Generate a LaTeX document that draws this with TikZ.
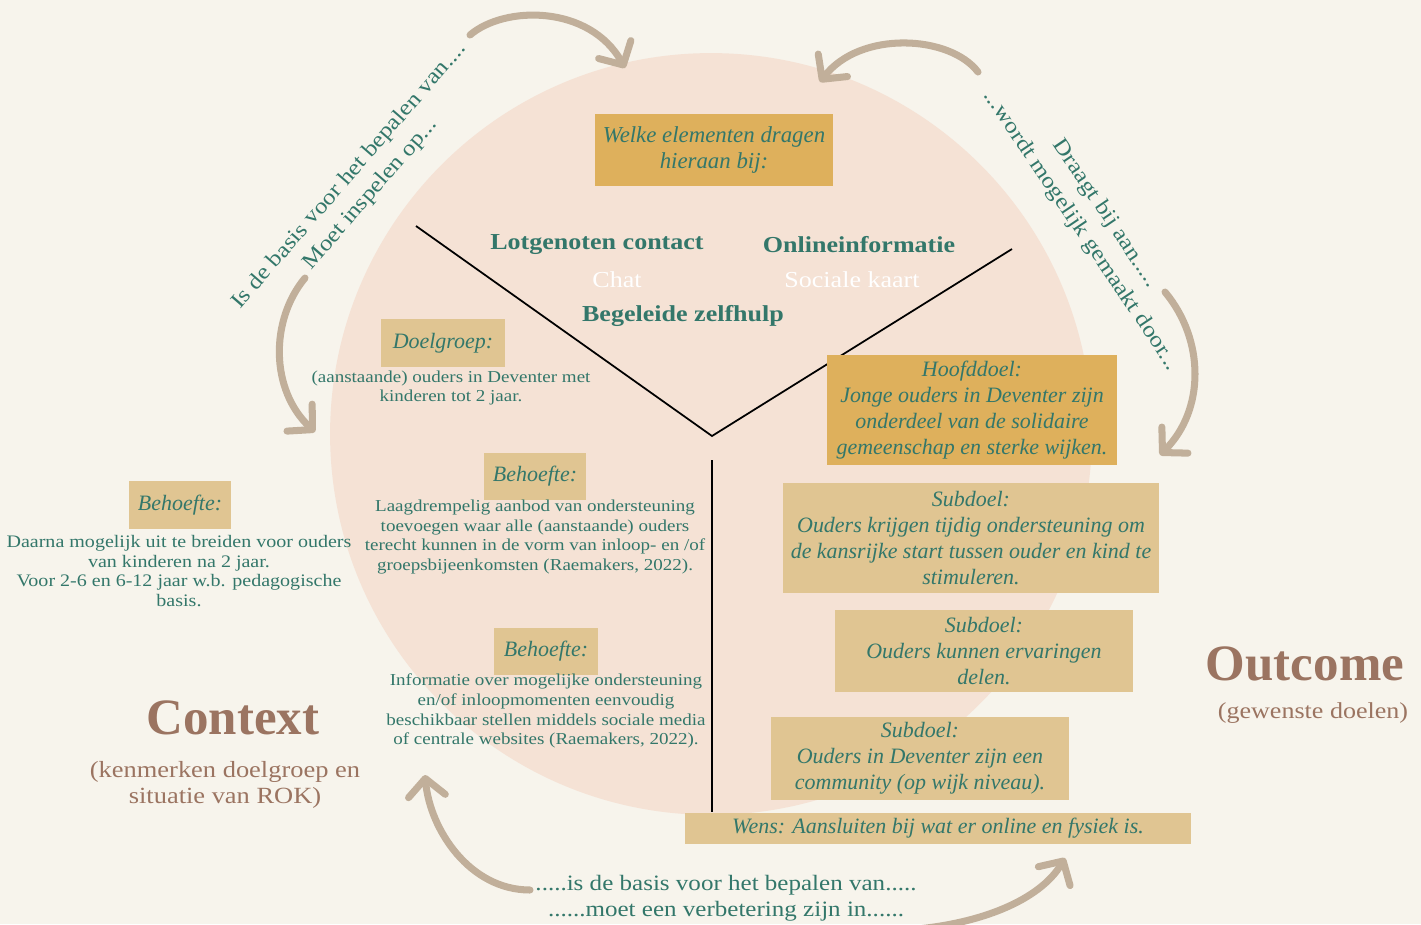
\documentclass[tikz,border=0pt]{standalone}
\usepackage{fontspec}
\setmainfont{Liberation Serif}
\newfontfamily\breed{Liberation Serif}[FakeStretch=1.14]
\usetikzlibrary{arrows.meta}
\definecolor{creme}{HTML}{F7F4EC}
\definecolor{roze}{HTML}{F5E2D5}
\definecolor{groen}{HTML}{33776A}
\definecolor{goudDonker}{HTML}{DEB05C}
\definecolor{goudLicht}{HTML}{E0C592}
\definecolor{pijlkleur}{HTML}{C1AF9A}
\definecolor{bruin}{HTML}{9B7461}

\begin{document}
\begin{tikzpicture}[x=0.02cm,y=-0.02cm,
    kaderdonker/.style={fill=goudDonker, text=groen, align=center, inner sep=0pt,
      font=\fontsize{12.5}{14.7}\selectfont\itshape},
    kaderlicht/.style={kaderdonker, fill=goudLicht},
    tekst/.style={text=groen, align=center, font=\breed\fontsize{9.5}{11.3}\selectfont},
    kop/.style={text=groen, font=\breed\fontsize{13}{15}\selectfont\bfseries},
    wit/.style={text=white, font=\breed\fontsize{13}{15}\selectfont},
    schuin/.style={text=groen, align=center, font=\breed\fontsize{12.5}{16}\selectfont},
    pijl/.style={draw=pijlkleur, line width=4pt, line cap=round,
      -{Straight Barb[length=10pt,width=21pt,line cap=round,line join=round]}}]

  % achtergrond en cirkel
  \fill[creme] (0,0) rectangle (1421,924);
  \useasboundingbox (0,0) rectangle (1421,924);
  \fill[roze] (711,434) circle [radius=7.62cm];

  % Y-lijnen
  \coordinate (vlinks) at (416,226);
  \coordinate (vpunt) at (712,436);
  \coordinate (vrechts) at (1012,249);
  \coordinate (stamtop) at (712,460);
  \coordinate (stamvoet) at (712,812);
  \draw[line width=1pt] (vlinks) -- (vpunt) -- (vrechts);
  \draw[line width=1pt] (stamtop) -- (stamvoet);

  % bovenste deel
  \node[kaderdonker, minimum width=4.76cm, minimum height=1.46cm,
    font=\fontsize{13}{14.7}\selectfont\itshape] (welke) at (714,150)
    {Welke elementen dragen\\hieraan bij:};
  \node[kop] (lotgenoten) at (597,245) {Lotgenoten contact};
  \node[kop] (online) at (859,245) {Onlineinformatie};
  \node[wit] (chat) at (617,280) {Chat};
  \node[wit] (sociaal) at (852,280) {Sociale kaart};
  \node[kop] (zelfhulp) at (683,316) {Begeleide zelfhulp};

  % context
  \node[kaderlicht, minimum width=2.5cm, minimum height=0.96cm] (doelgroep) at (443,343) {Doelgroep:};
  \node[tekst] (doelgroeptekst) at (451,388) {(aanstaande) ouders in Deventer met\\kinderen tot 2 jaar.};
  \node[kaderlicht, minimum width=2.04cm, minimum height=0.94cm] (behoefteA) at (535,476) {Behoefte:};
  \node[tekst] (behoefteAtekst) at (535,537) {Laagdrempelig aanbod van ondersteuning\\toevoegen waar alle (aanstaande) ouders\\terecht kunnen in de vorm van inloop- en /of\\groepsbijeenkomsten (Raemakers, 2022).};
  \node[kaderlicht, minimum width=2.08cm, minimum height=0.94cm] (behoefteB) at (546,651) {Behoefte:};
  \node[tekst] (behoefteBtekst) at (546,711) {Informatie over mogelijke ondersteuning\\en/of inloopmomenten eenvoudig\\beschikbaar stellen middels sociale media\\of centrale websites (Raemakers, 2022).};
  \node[kaderlicht, minimum width=2.06cm, minimum height=0.96cm] (behoefteC) at (180,505) {Behoefte:};
  \node[tekst, font=\breed\fontsize{10}{11.3}\selectfont] (behoefteCtekst) at (179,571) {Daarna mogelijk uit te breiden voor ouders\\van kinderen na 2 jaar.\\Voor 2-6 en 6-12 jaar w.b. pedagogische\\basis.};
  \node[text=bruin, font=\fontsize{29}{32}\selectfont\bfseries] (context) at (233,718) {Context};
  \node[text=bruin, align=center, font=\breed\fontsize{13.2}{14.7}\selectfont] (contextsub) at (225,785)
    {(kenmerken doelgroep en\\situatie van ROK)};

  % outcome
  \node[kaderdonker, minimum width=5.8cm, minimum height=2.2cm] (hoofddoel) at (972,410)
    {Hoofddoel:\\Jonge ouders in Deventer zijn\\onderdeel van de solidaire\\gemeenschap en sterke wijken.};
  \node[kaderlicht, minimum width=7.52cm, minimum height=2.2cm] (subdoelA) at (971,538)
    {Subdoel:\\Ouders krijgen tijdig ondersteuning om\\de kansrijke start tussen ouder en kind te\\stimuleren.};
  \node[kaderlicht, minimum width=5.96cm, minimum height=1.64cm] (subdoelB) at (984,651)
    {Subdoel:\\Ouders kunnen ervaringen\\delen.};
  \node[kaderlicht, minimum width=5.96cm, minimum height=1.66cm] (subdoelC) at (920,758)
    {Subdoel:\\Ouders in Deventer zijn een\\community (op wijk niveau).};
  \node[kaderlicht, minimum width=10.12cm, minimum height=0.62cm] (wens) at (938,828)
    {Wens: Aansluiten bij wat er online en fysiek is.};
  \node[text=bruin, font=\fontsize{29}{32}\selectfont\bfseries] (outcome) at (1305,664) {Outcome};
  \node[text=bruin, font=\breed\fontsize{13}{16}\selectfont] (outcomesub) at (1313,713) {(gewenste doelen)};

  % teksten bij de pijlen
  \node[schuin, rotate=49] (basislinks) at (360,185)
    {Is de basis voor het bepalen van....\\Moet inspelen op...};
  \node[schuin, rotate=-56, font=\breed\fontsize{12.5}{17}\selectfont] (draagt) at (1093,222)
    {Draagt bij aan.....\\...wordt mogelijk gemaakt door...};
  \node[schuin, font=\breed\fontsize{12.5}{14.7}\selectfont] (basisonder) at (726,898)
    {.....is de basis voor het bepalen van.....\\......moet een verbetering zijn in......};

  % pijlen
  \coordinate (pijlAbegin) at (470,35);
  \coordinate (pijlAeind) at (625,68);
  \coordinate (pijlBbegin) at (978,72);
  \coordinate (pijlBeind) at (820,82);
  \coordinate (pijlCbegin) at (1165,292);
  \coordinate (pijlCeind) at (1160,455);
  \coordinate (pijlDbegin) at (305,278);
  \coordinate (pijlDeind) at (315,432);
  \coordinate (pijlEbegin) at (530,890);
  \coordinate (pijlEeind) at (425,775);
  \coordinate (pijlFbegin) at (905,930);
  \coordinate (pijlFeind) at (1065,858);
  \draw[pijl] (pijlAbegin) .. controls (505,5) and (590,5) .. (pijlAeind);
  \draw[pijl] (pijlBbegin) .. controls (950,35) and (860,30) .. (pijlBeind);
  \draw[pijl] (pijlCbegin) .. controls (1205,340) and (1205,410) .. (pijlCeind);
  \draw[pijl] (pijlDbegin) .. controls (270,320) and (270,390) .. (pijlDeind);
  \draw[pijl] (pijlEbegin) .. controls (470,890) and (430,830) .. (pijlEeind);
  \draw[pijl] (pijlFbegin) .. controls (980,925) and (1040,900) .. (pijlFeind);
\end{tikzpicture}
\end{document}
